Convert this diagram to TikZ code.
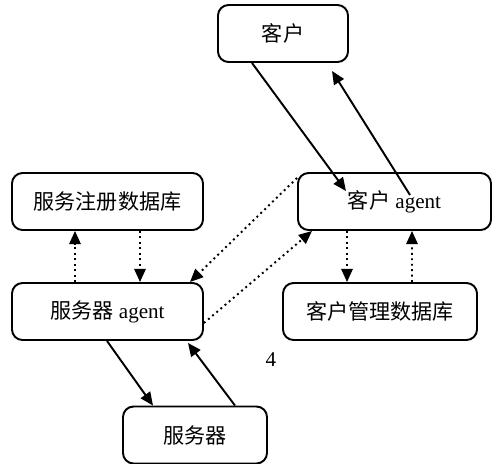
\documentclass[tikz,border=0pt]{standalone}
\usepackage{fontspec}
\setmainfont{Liberation Serif}
\newfontfamily\cjk{Noto Sans CJK SC}
\newcommand{\zh}[1]{{\cjk #1}}
\usetikzlibrary{arrows.meta,calc}
\tikzset{
	box/.style={draw,line width=1.1pt,rounded corners=6pt,minimum height=1.14cm,inner sep=0pt,font=\fontsize{12}{14}\selectfont},
	link/.style={line width=1.1pt,-{Triangle[length=7.5pt,width=6.5pt]}},
	dlink/.style={link,dotted}
}
\begin{document}
\begin{tikzpicture}
		\useasboundingbox (0,0) rectangle (9.84,-9.26);
		\node [box,minimum width=2.6cm] at (5.66,-0.67) (kh) {\zh{客户}};
		\node [box,minimum width=3.86cm] at (7.89,-4.03) (kha) {\zh{客户} agent};
		\node [box,minimum width=3.82cm] at (2.15,-4.03) (fzc) {\zh{服务注册数据库}};
		\node [box,minimum width=3.82cm] at (2.15,-6.23) (fwa) {\zh{服务器} agent};
		\node [box,minimum width=3.88cm] at (7.6,-6.23) (khg) {\zh{客户管理数据库}};
		\node [box,minimum width=2.88cm] at (3.9,-8.7) (fwq) {\zh{服务器}};
		\node [font=\fontsize{12}{14}\selectfont] at (5.42,-7.2) (n4) {4};
		\draw [link] ($(kh.south)+(-0.62,0)$) -- ($(kha.center)+(-0.97,0.21)$);
		\draw [link] ($(kha.center)+(0.31,0.13)$) -- ($(kh.south)+(0.98,-0.16)$);
		\draw [dlink] ($(kha.west)+(0,0.47)$) -- ($(fwa.north)+(1.65,0)$);
		\draw [dlink] ($(fwa.east)+(0,-0.23)$) -- ($(kha.south)+(-1.65,0)$);
		\draw [dlink] ($(fwa.north)+(-0.65,0)$) -- ($(fzc.south)+(-0.65,0)$);
		\draw [dlink] ($(fzc.south)+(0.65,0)$) -- ($(fwa.north)+(0.65,0)$);
		\draw [dlink] ($(kha.south)+(-0.95,0)$) -- ($(khg.north)+(-0.66,0)$);
		\draw [dlink] ($(khg.north)+(0.64,0)$) -- ($(kha.south)+(0.35,0)$);
		\draw [link] ($(fwa.south)+(-0.01,0)$) -- ($(fwq.north)+(-0.84,0)$);
		\draw [link] ($(fwq.north)+(0.8,0)$) -- ($(fwa.south)+(1.61,-0.04)$);
	\end{tikzpicture}
\end{document}
